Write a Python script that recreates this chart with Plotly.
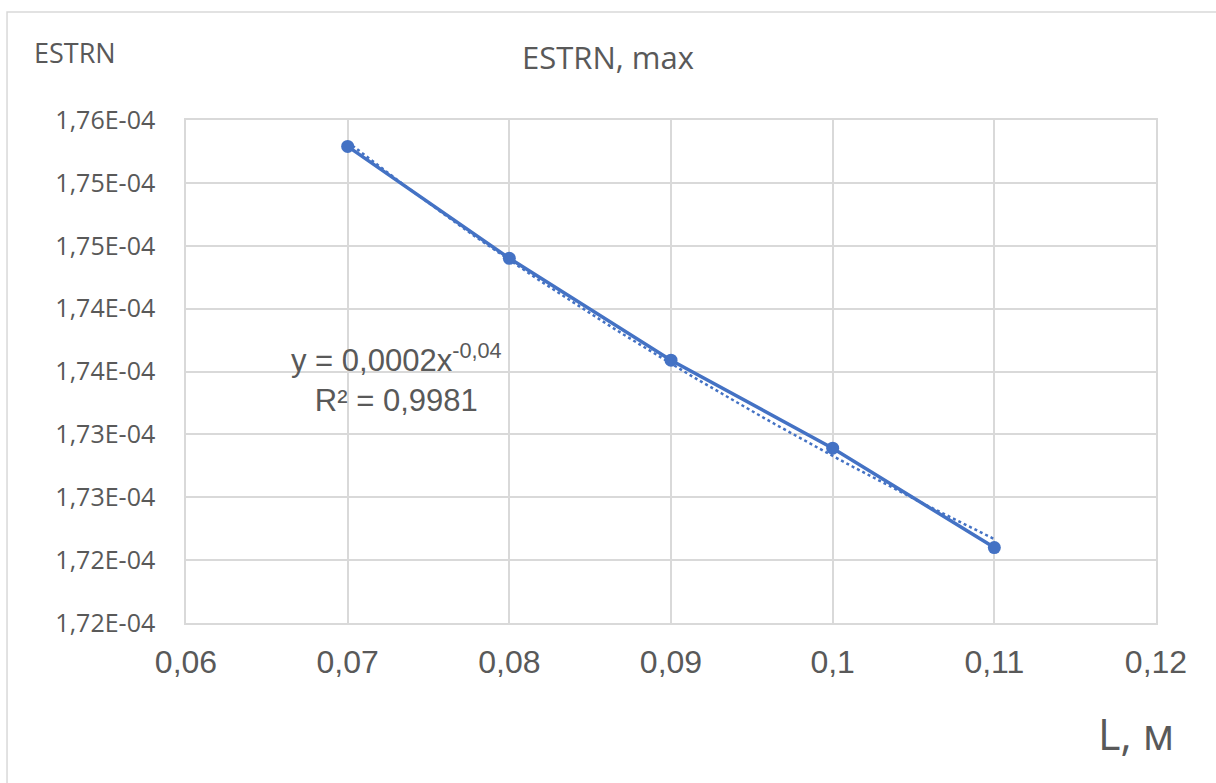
import numpy as np
import plotly.graph_objects as go

# Measured maximum ESTRN for each length L (m)
length_m = [0.07, 0.08, 0.09, 0.10, 0.11]
estrn_max = [1.7579e-4, 1.7490e-4, 1.7409e-4, 1.7339e-4, 1.7260e-4]

# Axis ticks and their labels (comma decimal separator)
x_ticks = [0.06, 0.07, 0.08, 0.09, 0.10, 0.11, 0.12]
x_tick_text = ["0,06", "0,07", "0,08", "0,09", "0,1", "0,11", "0,12"]
y_ticks = [1.720e-4, 1.725e-4, 1.730e-4, 1.735e-4, 1.740e-4,
           1.745e-4, 1.750e-4, 1.755e-4, 1.760e-4]
y_tick_text = ["1,72E-04", "1,72E-04", "1,73E-04", "1,73E-04", "1,74E-04",
               "1,74E-04", "1,75E-04", "1,75E-04", "1,76E-04"]

BLUE = "#4472C4"
GREY_TEXT = "#595959"
GRID = "#D9D9D9"

# Power trendline y = a * x^b fitted in log space
xs = np.array(length_m)
ys = np.array(estrn_max)
b, ln_a = np.polyfit(np.log(xs), np.log(ys), 1)
x_fit = np.linspace(xs.min(), xs.max(), 60)
y_fit = np.exp(ln_a) * x_fit ** b

fig = go.Figure()
fig.add_trace(go.Scatter(
    x=x_fit, y=y_fit, mode="lines",
    line=dict(color=BLUE, width=2.5, dash="dot"),
    hoverinfo="skip", showlegend=False,
))
fig.add_trace(go.Scatter(
    x=length_m, y=estrn_max, mode="lines+markers",
    line=dict(color=BLUE, width=3.5),
    marker=dict(color=BLUE, size=13),
    showlegend=False,
))

fig.update_layout(
    width=1216, height=783,
    margin=dict(l=186, r=60, t=120, b=160),
    paper_bgcolor="white", plot_bgcolor="white",
    title=dict(text="ESTRN, max", x=0.5, xref="container", xanchor="center",
               y=1 - 58 / 783, yref="container", yanchor="middle",
               font=dict(family="Open Sans", size=31, color=GREY_TEXT)),
    xaxis=dict(range=[0.06, 0.12], tickvals=x_ticks, ticktext=x_tick_text,
               showgrid=True, gridcolor=GRID, gridwidth=1.5,
               showline=True, linecolor=GRID, linewidth=1.5, mirror=True,
               zeroline=False, ticks="", ticklabelstandoff=10,
               tickfont=dict(family="Liberation Sans", size=32, color=GREY_TEXT)),
    yaxis=dict(range=[1.720e-4, 1.760e-4], tickvals=y_ticks, ticktext=y_tick_text,
               showgrid=True, gridcolor=GRID, gridwidth=1.5,
               showline=True, linecolor=GRID, linewidth=1.5, mirror=True,
               zeroline=False, ticks="", ticklabelstandoff=24,
               tickfont=dict(family="Open Sans", size=25, color=GREY_TEXT)),
)

# Outer chart frame
fig.add_shape(type="rect", xref="paper", yref="paper",
              x0=-0.1845, x1=1.08, y0=-0.35, y1=1.2147,
              line=dict(color=GRID, width=1.5), fillcolor="rgba(0,0,0,0)",
              layer="below")

# Axis captions
fig.add_annotation(text="ESTRN", xref="paper", yref="paper",
                   x=-0.1588, y=1.135, xanchor="left", yanchor="middle",
                   showarrow=False,
                   font=dict(family="Open Sans", size=27, color=GREY_TEXT))
fig.add_annotation(text="L, м", xref="paper", yref="paper",
                   x=1.0206, y=-0.2187, xanchor="right", yanchor="middle",
                   showarrow=False,
                   font=dict(family="Open Sans", size=43, color=GREY_TEXT))

# Trendline equation
fig.add_annotation(text="y = 0,0002x<sup>-0,04</sup><br>R² = 0,9981",
                   xref="paper", yref="paper", x=0.2165, y=0.487,
                   xanchor="center", yanchor="middle", align="center",
                   showarrow=False,
                   font=dict(family="Liberation Sans", size=31, color=GREY_TEXT))

fig.write_html("out.html")
